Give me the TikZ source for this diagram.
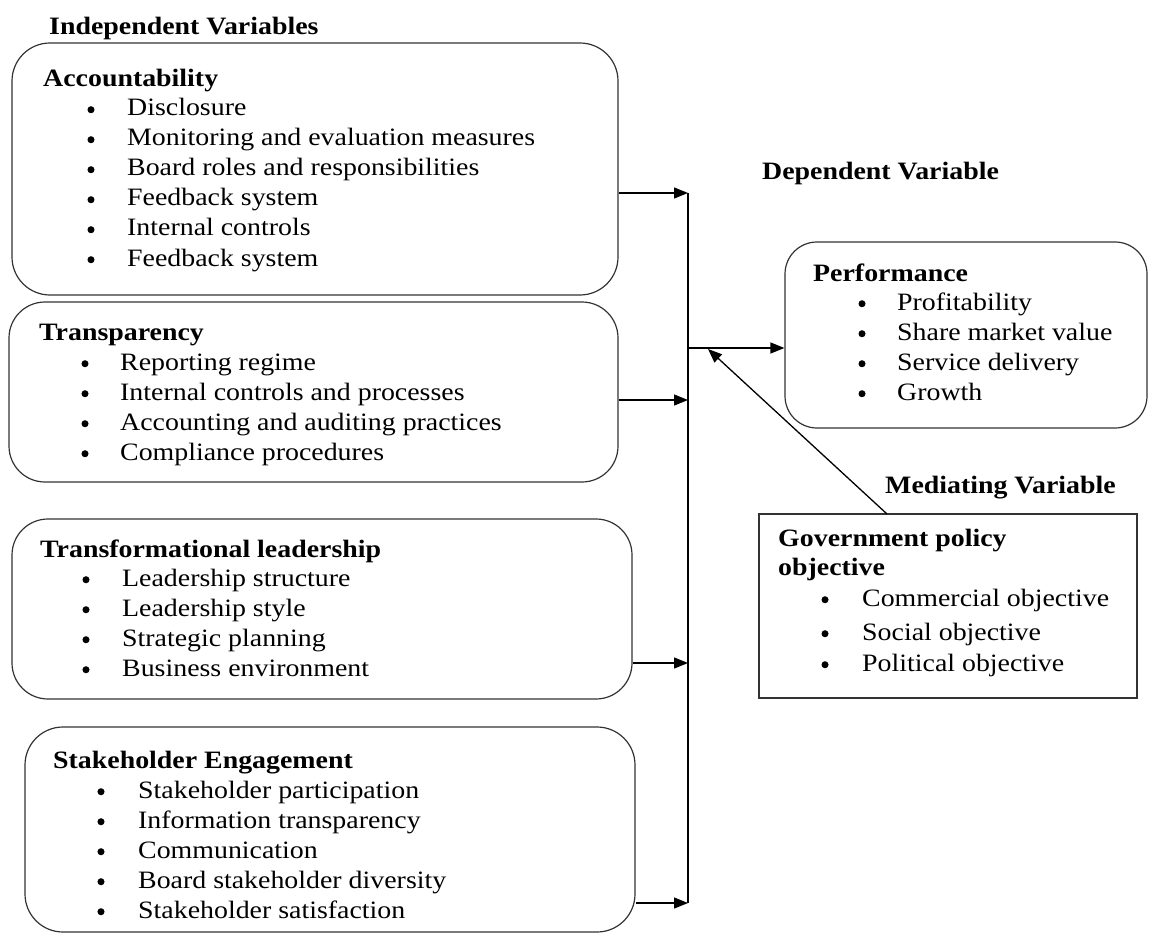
\documentclass[tikz,border=0pt]{standalone}
\usepackage{fontspec}
\setmainfont{Liberation Serif}[FakeStretch=1.115]
\newfontfamily\bulfont{Liberation Serif}[FakeBold=4]
\usetikzlibrary{arrows.meta}
\begin{document}
\begin{tikzpicture}[x=1pt,y=-1pt,
  rbox/.style={draw=black!80, line width=1.2pt, rounded corners=#1, inner sep=0pt},
  sbox/.style={draw=black!80, line width=1.2pt, inner sep=0pt},
  txt/.style={anchor=base west, inner sep=0pt, font=\fontsize{25}{30}\selectfont},
  hd/.style={anchor=base west, inner sep=0pt, font=\fontsize{25}{30}\selectfont\bfseries},
  bul/.style={anchor=base, inner sep=0pt, font=\bulfont\fontsize{25}{30}\selectfont},
  ln/.style={draw=black, line width=1.3pt},
  arr/.style={draw=black, line width=1.3pt, -{Triangle[length=14pt,width=11pt]}}
]
\useasboundingbox (0,0) rectangle (1150,933);

% boxes
\node[rbox=38pt, minimum width=606pt, minimum height=252pt] (acc) at (315,169) {};
\node[rbox=36pt, minimum width=609pt, minimum height=180pt] (trn) at (313.5,392) {};
\node[rbox=36pt, minimum width=620pt, minimum height=180pt] (tfl) at (322,609) {};
\node[rbox=38pt, minimum width=610pt, minimum height=205pt] (stk) at (330,829.5) {};
\node[rbox=32pt, minimum width=362pt, minimum height=186pt] (perf) at (966,335) {};
\node[sbox, minimum width=378pt, minimum height=184pt] (gov) at (948,606) {};

% section headings
\node[hd] (indep) at (49,35) {Independent Variables};
\node[hd] (dep) at (762,180) {Dependent Variable};
\node[hd] (med) at (885,493) {Mediating Variable};

% Accountability
\node[hd] (acc-t) at (43,87) {Accountability};
\foreach \t [count=\i] in {Disclosure,Monitoring and evaluation measures,Board roles and responsibilities,Feedback system,Internal controls,Feedback system}{
  \node[bul] (acc-b\i) at (91,{116+30*(\i-1)+2}) {\textbullet};
  \node[txt] (acc-i\i) at (127,{116+30*(\i-1)}) {\t};
}

% Transparency
\node[hd] (trn-t) at (39,340) {Transparency};
\foreach \t [count=\i] in {Reporting regime,Internal controls and processes,Accounting and auditing practices,Compliance procedures}{
  \node[bul] (trn-b\i) at (85,{370+30*(\i-1)+2}) {\textbullet};
  \node[txt] (trn-i\i) at (120,{370+30*(\i-1)}) {\t};
}

% Transformational leadership
\node[hd] (tfl-t) at (40,557) {Transformational leadership};
\foreach \t [count=\i] in {Leadership structure,Leadership style,Strategic planning,Business environment}{
  \node[bul] (tfl-b\i) at (86,{586+30*(\i-1)+2}) {\textbullet};
  \node[txt] (tfl-i\i) at (122,{586+30*(\i-1)}) {\t};
}

% Stakeholder engagement
\node[hd] (stk-t) at (53,768) {Stakeholder Engagement};
\foreach \t [count=\i] in {Stakeholder participation,Information transparency,Communication,Board stakeholder diversity,Stakeholder satisfaction}{
  \node[bul] (stk-b\i) at (101,{798+30*(\i-1)+2}) {\textbullet};
  \node[txt] (stk-i\i) at (138,{798+30*(\i-1)}) {\t};
}

% Performance
\node[hd] (perf-t) at (813,281) {Performance};
\foreach \t [count=\i] in {Profitability,Share market value,Service delivery,Growth}{
  \node[bul] (perf-b\i) at (862,{310+30*(\i-1)+2}) {\textbullet};
  \node[txt] (perf-i\i) at (897,{310+30*(\i-1)}) {\t};
}

% Government policy objective
\node[hd] (gov-t1) at (778,546) {Government policy};
\node[hd] (gov-t2) at (778,575) {objective};
\node[bul] (gov-b1) at (825,608) {\textbullet};
\node[txt] (gov-i1) at (862,606) {Commercial objective};
\node[bul] (gov-b2) at (825,642) {\textbullet};
\node[txt] (gov-i2) at (862,640) {Social objective};
\node[bul] (gov-b3) at (825,673) {\textbullet};
\node[txt] (gov-i3) at (862,671) {Political objective};

% connectors
\coordinate (j1) at (688,193);
\coordinate (j2) at (688,400);
\coordinate (j3) at (688,663);
\coordinate (j4) at (688,903);
\coordinate (jm) at (688,348);
\coordinate (jt) at (708,349);
\coordinate (gtop) at (887,514);

\draw[ln] (j1) -- (j4);
\draw[arr] (acc.east |- j1) -- (j1);
\draw[arr] (trn.east |- j2) -- (j2);
\draw[arr] (tfl.east |- j3) -- (j3);
\draw[arr] (stk.east |- j4) -- (j4);
\draw[arr] (jm) -- (perf.west |- jm);
\draw[arr] (gtop) -- (jt);
\end{tikzpicture}
\end{document}
